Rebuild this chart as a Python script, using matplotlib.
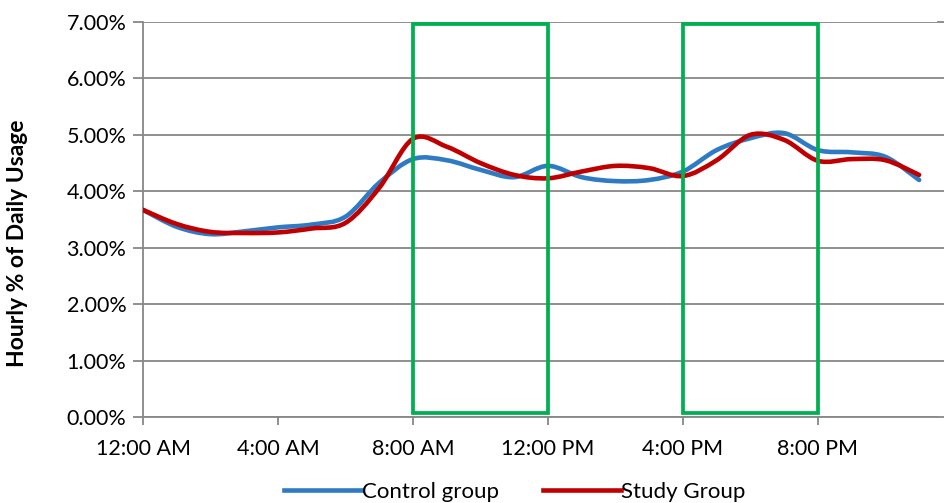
import matplotlib.pyplot as plt
import numpy as np
from matplotlib.path import Path
from matplotlib.patches import PathPatch, Rectangle
from matplotlib.lines import Line2D

plt.rcParams['font.family'] = ['Lato', 'DejaVu Sans']

hours = list(range(24))
control = [3.67, 3.37, 3.24, 3.29, 3.36, 3.41, 3.55, 4.15, 4.57, 4.55, 4.38, 4.25,
           4.45, 4.25, 4.18, 4.20, 4.35, 4.73, 4.94, 5.03, 4.73, 4.69, 4.61, 4.20]
study = [3.67, 3.42, 3.28, 3.26, 3.27, 3.34, 3.44, 4.06, 4.93, 4.79, 4.50, 4.29,
         4.23, 4.35, 4.45, 4.41, 4.27, 4.55, 5.00, 4.91, 4.54, 4.57, 4.55, 4.29]
tick_hours = [0, 4, 8, 12, 16, 20]
tick_labels = ["12:00 AM", "4:00 AM", "8:00 AM", "12:00 PM", "4:00 PM", "8:00 PM"]
boxes = [(8, 12), (16, 20)]


def smooth_path(x, y):
    # excel-style smoothed line: catmull-rom turned into bezier segments
    pts = np.column_stack([x, y]).astype(float)
    padded = np.vstack([pts[0], pts, pts[-1]])
    verts = [pts[0]]
    codes = [Path.MOVETO]
    for i in range(len(pts) - 1):
        p0, p1, p2, p3 = padded[i], padded[i + 1], padded[i + 2], padded[i + 3]
        verts += [p1 + (p2 - p0) / 6, p2 - (p3 - p1) / 6, p2]
        codes += [Path.CURVE4] * 3
    return Path(verts, codes)


fig = plt.figure(figsize=(9.44, 5.03), dpi=100)
ax = fig.add_axes([0.1515, 0.171, 0.8411, 0.7853])

series = [("Control group", control, "#2E7BC4"), ("Study Group", study, "#C00000")]
handles = []
for label, vals, color in series:
    ax.add_patch(PathPatch(smooth_path(hours, vals), fill=False, edgecolor=color,
                           lw=3.3, capstyle='round', joinstyle='round', zorder=3))
    handles.append(Line2D([], [], color=color, lw=3.3, label=label))

for x0, x1 in boxes:
    ax.add_patch(Rectangle((x0, 0.07), x1 - x0, 6.9, fill=False,
                           edgecolor="#00B050", lw=2.7, zorder=4))

ax.set_xlim(0, 23.53)
ax.set_ylim(0, 7)
ax.set_yticks(np.arange(0, 8, 1))
ax.set_yticklabels([f"{v:.2f}%" for v in np.arange(0, 8, 1)])
ax.set_xticks(tick_hours)
ax.set_xticklabels(tick_labels)
ax.grid(axis='y', color="#878787", lw=1.3)
ax.set_axisbelow(True)

for s in ["top", "right"]:
    ax.spines[s].set_visible(False)
for s in ["left", "bottom"]:
    ax.spines[s].set_color("#878787")
    ax.spines[s].set_linewidth(1.3)

ax.tick_params(axis='y', which='both', left=True, right=True, length=7, width=1.3,
               color="#878787", labelsize=15.5, pad=5)
ax.tick_params(axis='x', length=6, width=1.3, color="#878787", labelsize=15.5, pad=10)

ax.set_ylabel("Hourly % of Daily Usage", fontsize=16.5, fontweight='bold')
ax.yaxis.set_label_coords(-0.145, 0.44)

fig.legend(handles=handles, loc='center', bbox_to_anchor=(0.545, 0.022), ncol=2,
           frameon=False, fontsize=16, handlelength=3.5, handletextpad=0.0,
           columnspacing=2.0)

fig.savefig("out.png", dpi=100)
